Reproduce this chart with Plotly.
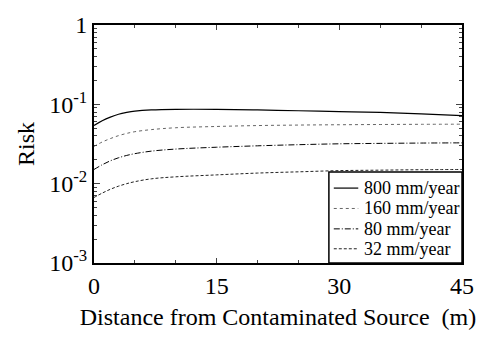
import plotly.graph_objects as go

distance = [0, 1, 2, 3, 4, 5, 7, 10, 15, 20, 25, 30, 35, 40, 45]
risk_800 = [0.054, 0.062, 0.069, 0.075, 0.079, 0.082, 0.085, 0.0865, 0.0865, 0.085, 0.083, 0.081, 0.079, 0.076, 0.072]
risk_160 = [0.0295, 0.0335, 0.037, 0.0403, 0.043, 0.0452, 0.048, 0.0507, 0.0526, 0.054, 0.0548, 0.0553, 0.0557, 0.056, 0.0562]
risk_80 = [0.0151, 0.0173, 0.0194, 0.0212, 0.0227, 0.0239, 0.0257, 0.0273, 0.0288, 0.030, 0.031, 0.0318, 0.0322, 0.0325, 0.0327]
risk_32 = [0.0067, 0.0076, 0.0085, 0.0093, 0.0100, 0.0106, 0.0115, 0.0122, 0.0129, 0.0136, 0.0141, 0.0146, 0.0148, 0.0150, 0.0151]
series_names = ["800 mm/year", "160 mm/year", "80 mm/year", "32 mm/year"]

y_tickvals = [0.001, 0.01, 0.1, 1]
y_ticktext = ["10<sup>-3</sup>", "10<sup>-2</sup>", "10<sup>-1</sup>", "1"]
x_tickvals = [0, 15, 30, 45]

styles = [
    dict(dash="solid", color="black", width=1.2),
    dict(dash="dot", color="#666666", width=1.0),
    dict(dash="6px,2px,1px,2px", color="black", width=1.0),
    dict(dash="3px,2px", color="#222222", width=1.0),
]

FONT = "Liberation Serif"
W, H = 486, 338
L, R, T, B = 94, 16, 17, 70

fig = go.Figure()
for name, ys, st in zip(series_names, [risk_800, risk_160, risk_80, risk_32], styles):
    fig.add_trace(go.Scatter(x=distance, y=ys, mode="lines", name=name,
                             line=dict(shape="spline", **st), showlegend=False))


def px_x(p):
    return (p - L) / (W - L - R)


def px_y(p):
    return (H - B - p) / (H - T - B)


# manual legend box (as in the reference)
shapes = [dict(type="rect", xref="paper", yref="paper",
               x0=px_x(334), x1=1.0, y0=0.0, y1=px_y(172),
               line=dict(color="black", width=1.5), fillcolor="white", layer="above")]
annotations = []
row_y = [189, 210.5, 232, 253]
for name, st, ry in zip(series_names, styles, row_y):
    shapes.append(dict(type="line", xref="paper", yref="paper",
                       x0=px_x(339), x1=px_x(364), y0=px_y(ry), y1=px_y(ry),
                       line=dict(**st), layer="above"))
    annotations.append(dict(xref="paper", yref="paper", x=px_x(368), y=px_y(ry),
                            xanchor="left", yanchor="middle", text=name, showarrow=False,
                            font=dict(family=FONT, size=18, color="black")))

minor_y = [m * 10 ** e for e in (-3, -2, -1) for m in range(2, 10)]

fig.update_layout(
    width=W, height=H,
    margin=dict(l=L, r=R, t=T, b=B),
    paper_bgcolor="white", plot_bgcolor="white",
    font=dict(family=FONT, size=24, color="black"),
    showlegend=False,
    shapes=shapes,
    annotations=annotations,
    xaxis=dict(range=[0, 45], tickvals=x_tickvals, ticks="inside", ticklen=5,
               tickwidth=1, showline=True, linewidth=2, linecolor="black",
               mirror="allticks", showgrid=False, zeroline=False,
               minor=dict(tickvals=[5, 10, 20, 25, 35, 40], ticks="inside", ticklen=3, tickwidth=1),
               title=dict(text="Distance from Contaminated Source\u00a0\u00a0(m)", standoff=10,
                          font=dict(family=FONT, size=24, color="black")),
               tickfont=dict(family=FONT, size=24, color="black")),
    yaxis=dict(type="log", range=[-3, 0], tickvals=y_tickvals, ticktext=y_ticktext,
               ticks="inside", ticklen=6, tickwidth=1, showline=True, linewidth=2,
               linecolor="black", mirror="allticks", showgrid=False, zeroline=False,
               minor=dict(tickvals=minor_y, ticks="inside", ticklen=3, tickwidth=1),
               title=dict(text="Risk", standoff=8, font=dict(family=FONT, size=24, color="black")),
               tickfont=dict(family=FONT, size=24, color="black")),
)

fig.write_html("out.html")
